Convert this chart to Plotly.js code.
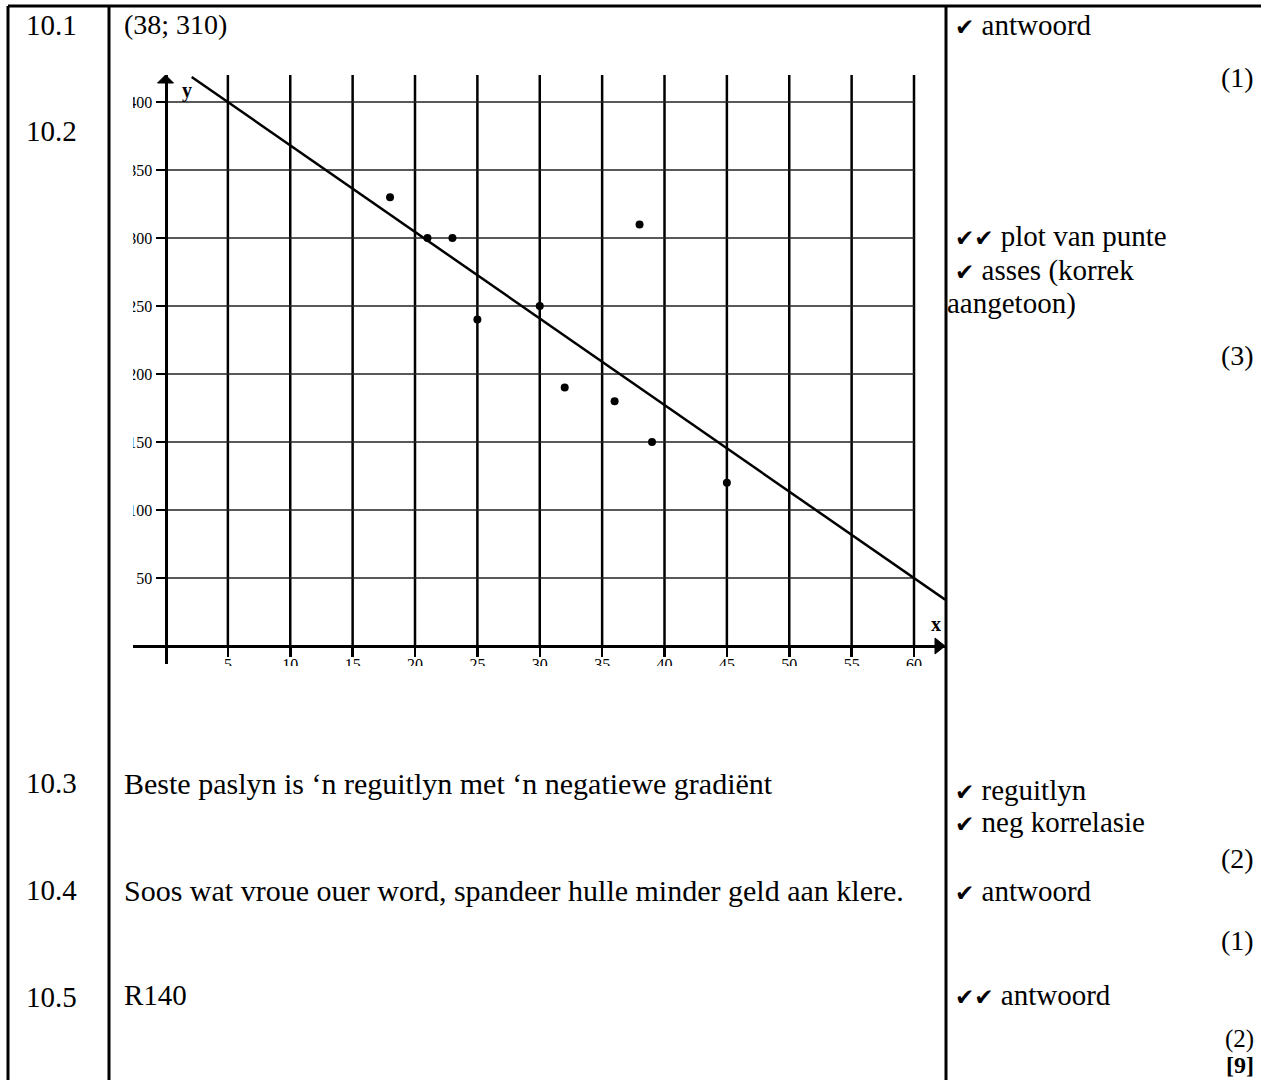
<!DOCTYPE html>
<html>
<head>
<meta charset="utf-8">
<script src="https://cdn.plot.ly/plotly-3.0.1.min.js"></script>
<style>
  html, body { margin: 0; padding: 0; background: #fff; }
  #chart { width: 1261px; height: 1080px; }
</style>
</head>
<body>
<div id="chart"></div>
<script>
// Scatter data: age of women (x) against money spent on clothes (y)
const ages  = [18, 21, 23, 25, 30, 32, 36, 38, 39, 45];
const spend = [330, 300, 300, 240, 250, 190, 180, 310, 150, 120];

// Line of best fit, end points
const fitX = [2.1, 62.5];
const fitY = [418.4, 34.0];

// Tick values / labels
const xTicks = [5, 10, 15, 20, 25, 30, 35, 40, 45, 50, 55, 60];
const yTicks = [50, 100, 150, 200, 250, 300, 350, 400];

// Memo table text
const questionNums = ['10.1', '10.2', '10.3', '10.4', '10.5'];
const answers = [
  '(38; 310)',
  'Beste paslyn is \u2018n reguitlyn met \u2018n negatiewe gradi\u00ebnt',
  'Soos wat vroue ouer word, spandeer hulle minder geld aan klere.',
  'R140'
];
const markNotes = [
  '\u2713 antwoord',
  '\u2713\u2713 plot van punte',
  '\u2713 asses (korrek',
  'aangetoon)',
  '\u2713 reguitlyn',
  '\u2713 neg korrelasie',
  '\u2713 antwoord',
  '\u2713\u2713 antwoord'
];
const markTotals = ['(1)', '(3)', '(2)', '(1)', '(2)'];
const grandTotal = '[9]';

// ---- page geometry (pixels) ----
const W = 1261, H = 1080;
const px = v => v / W;
const py = v => 1 - v / H;

const plotLeft = 133, plotRight = 945, plotTop = 75, plotBottom = 664;
const originX = 165.5, originY = 646;
const pxPerX = 12.475, pxPerY = 1.36;
const xRange = [(plotLeft - originX) / pxPerX, (plotRight - originX) / pxPerX];
const yRange = [(originY - plotBottom) / pxPerY, (originY - plotTop) / pxPerY];

const serif = '"Liberation Serif", "Times New Roman", serif';
const txtSize = 29;
// check marks drawn with the heavier dingbat glyph
const tick = s => '<span style="font-family:DejaVu Sans;font-size:23px">' +
  s.replace(/\u2713/g, '\u2714') + '</span>';
const withTicks = s => s.replace(/^(\u2713+)/, m => tick(m));

const traces = [
  {
    x: fitX, y: fitY, mode: 'lines', type: 'scatter',
    line: { color: '#000', width: 2.5 }, hoverinfo: 'skip', cliponaxis: true
  },
  {
    x: ages, y: spend, mode: 'markers', type: 'scatter',
    marker: { color: '#000', size: 8 }, cliponaxis: false
  }
];

const shapes = [];
// grid
xTicks.forEach(v => shapes.push({
  type: 'line', xref: 'x', yref: 'y', x0: v, x1: v, y0: 0, y1: yRange[1],
  line: { color: '#000', width: 2.5 }, layer: 'below'
}));
yTicks.forEach(v => shapes.push({
  type: 'line', xref: 'x', yref: 'y', x0: 0, x1: 60, y0: v, y1: v,
  line: { color: '#222', width: 1.6 }, layer: 'below'
}));
// axis arrowheads
shapes.push({
  type: 'path', xref: 'x', yref: 'y', xsizemode: 'pixel', ysizemode: 'pixel',
  xanchor: 0, yanchor: yRange[1], path: 'M-8,-8 L0,0 L8,-8 Z',
  fillcolor: '#000', line: { color: '#000', width: 1 }, layer: 'above'
});
shapes.push({
  type: 'path', xref: 'x', yref: 'y', xsizemode: 'pixel', ysizemode: 'pixel',
  xanchor: xRange[1], yanchor: 0, path: 'M-10,-8 L0,0 L-10,8 Z',
  fillcolor: '#000', line: { color: '#000', width: 1 }, layer: 'above'
});
// white masks trimming the pasted graph image
shapes.push({
  type: 'rect', xref: 'paper', yref: 'paper',
  x0: px(112), x1: px(plotLeft), y0: py(666), y1: py(60),
  fillcolor: '#fff', line: { width: 0 }, layer: 'above'
});
shapes.push({
  type: 'rect', xref: 'paper', yref: 'paper',
  x0: px(112), x1: px(944), y0: py(720), y1: py(666),
  fillcolor: '#fff', line: { width: 0 }, layer: 'above'
});
// table rules
const rule = (x0, y0, x1, y1) => ({
  type: 'line', xref: 'paper', yref: 'paper',
  x0: px(x0), x1: px(x1), y0: py(y0), y1: py(y1),
  line: { color: '#000', width: 3 }, layer: 'above'
});
shapes.push(rule(8, 6, W, 6));
shapes.push(rule(8, 6, 8, H));
shapes.push(rule(109, 6, 109, H));
shapes.push(rule(946, 6, 946, H));

const annotations = [];
const note = (text, x, y, anchor, size) => annotations.push({
  text: text, xref: 'paper', yref: 'paper', x: px(x), y: py(y),
  xanchor: anchor || 'left', yanchor: 'middle', showarrow: false,
  font: { family: serif, size: size || txtSize, color: '#000' }
});

// question numbers
const qY = [25, 131, 783, 890, 997];
questionNums.forEach((q, i) => note(q, 24, qY[i]));
// answers
const aY = [25, 783, 890, 995];
const aSize = [28, 30, 30, 29];
answers.forEach((a, i) => note(a, 122, aY[i], 'left', aSize[i]));
// mark notes
const mX = [953, 953, 953, 945, 953, 953, 953, 953];
const mY = [25, 236, 270, 304, 790, 822, 891, 995];
markNotes.forEach((m, i) => note(withTicks(m), mX[i], mY[i]));
// mark totals
const tY = [77, 355, 858, 940, 1039];
const tSize = [28, 28, 28, 28, 25];
markTotals.forEach((t, i) => note(t, 1256, tY[i], 'right', tSize[i]));
note('<b>' + grandTotal + '</b>', 1256, 1065, 'right', 24);

// axis letters
note('<b>y</b>', 187, 90, 'center', 20);
note('<b>x</b>', 936, 624, 'center', 20);

const layout = {
  width: W, height: H,
  margin: { l: 0, r: 0, t: 0, b: 0, pad: 0 },
  paper_bgcolor: '#fff', plot_bgcolor: 'rgba(0,0,0,0)',
  showlegend: false,
  xaxis: {
    domain: [px(plotLeft), px(plotRight)], range: xRange,
    anchor: 'free', position: py(originY),
    showgrid: false, zeroline: false,
    showline: true, linecolor: '#000', linewidth: 3,
    ticks: 'outside', ticklen: 9, tickwidth: 2.5, tickcolor: '#000',
    ticklabelstandoff: -6,
    tickvals: xTicks, ticktext: xTicks.map(String),
    tickfont: { family: serif, size: 16, color: '#000' }
  },
  yaxis: {
    domain: [py(plotBottom), py(plotTop)], range: yRange,
    anchor: 'free', position: px(originX),
    showgrid: false, zeroline: false,
    showline: true, linecolor: '#000', linewidth: 3,
    ticks: 'outside', ticklen: 9, tickwidth: 1.5, tickcolor: '#000',
    tickvals: yTicks, ticktext: yTicks.map(String),
    tickfont: { family: serif, size: 16, color: '#000' }
  },
  shapes: shapes,
  annotations: annotations
};

Plotly.newPlot('chart', traces, layout, { staticPlot: true, displayModeBar: false });
</script>
</body>
</html>
